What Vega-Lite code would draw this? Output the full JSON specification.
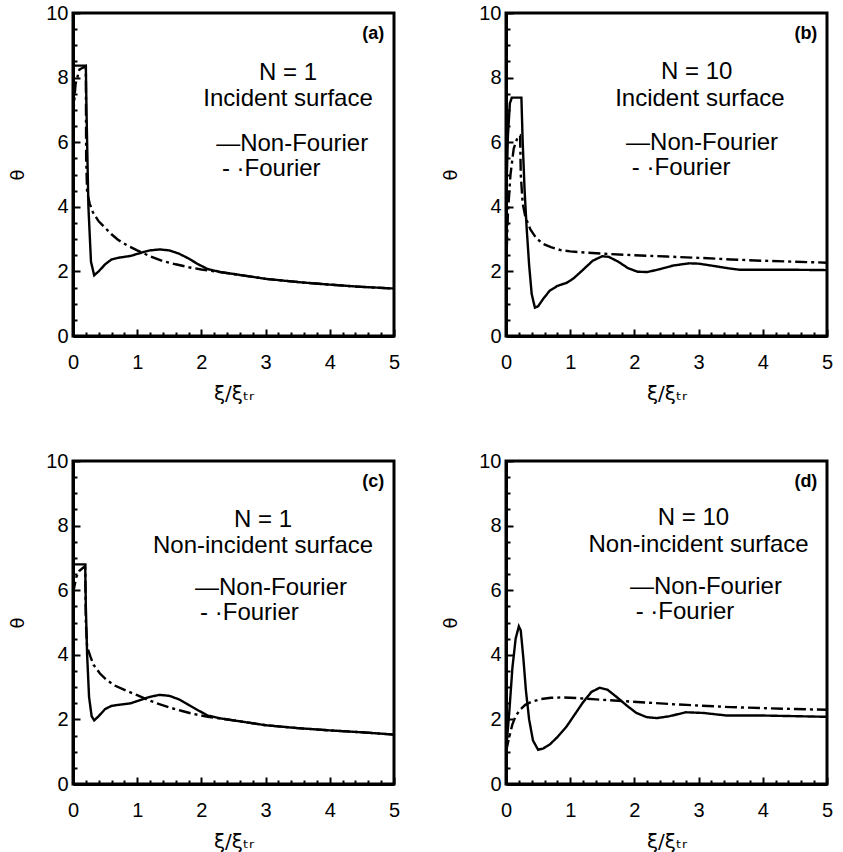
{
  "$schema": "https://vega.github.io/schema/vega-lite/v6.json",
  "background": "white",
  "padding": {"left": 8, "top": 1, "right": 5, "bottom": 5},
  "columns": 2,
  "spacing": {"row": 125, "column": 112},
  "bounds": "flush",
  "config": {
    "font": "Liberation Sans",
    "view": {"stroke": "black", "strokeWidth": 3},
    "axis": {"domainColor": "black", "domainWidth": 3, "tickColor": "black", "tickWidth": 2, "labelFont": "Liberation Sans", "labelFontSize": 20, "labelColor": "black", "titleFont": "DejaVu Sans", "titleColor": "black", "titleFontWeight": "normal", "grid": false, "labelOverlap": false, "labelFlush": false},
    "text": {"font": "Liberation Sans", "fontSize": 24, "color": "black"}
  },
  "datasets": {
    "a": [
      {"x": 0, "y": 8.37, "m": "Non-Fourier"}, {"x": 0.2, "y": 8.37, "m": "Non-Fourier"}, {"x": 0.21, "y": 7.0, "m": "Non-Fourier"}, {"x": 0.24, "y": 4.0, "m": "Non-Fourier"}, {"x": 0.28, "y": 2.3, "m": "Non-Fourier"}, {"x": 0.33, "y": 1.88, "m": "Non-Fourier"}, {"x": 0.4, "y": 2.0, "m": "Non-Fourier"}, {"x": 0.5, "y": 2.22, "m": "Non-Fourier"}, {"x": 0.6, "y": 2.37, "m": "Non-Fourier"}, {"x": 0.7, "y": 2.42, "m": "Non-Fourier"}, {"x": 0.8, "y": 2.45, "m": "Non-Fourier"}, {"x": 0.9, "y": 2.48, "m": "Non-Fourier"}, {"x": 1.0, "y": 2.54, "m": "Non-Fourier"}, {"x": 1.1, "y": 2.6, "m": "Non-Fourier"}, {"x": 1.2, "y": 2.65, "m": "Non-Fourier"}, {"x": 1.35, "y": 2.68, "m": "Non-Fourier"}, {"x": 1.5, "y": 2.65, "m": "Non-Fourier"}, {"x": 1.65, "y": 2.55, "m": "Non-Fourier"}, {"x": 1.8, "y": 2.4, "m": "Non-Fourier"}, {"x": 1.95, "y": 2.22, "m": "Non-Fourier"}, {"x": 2.1, "y": 2.07, "m": "Non-Fourier"}, {"x": 2.3, "y": 1.98, "m": "Non-Fourier"}, {"x": 2.5, "y": 1.92, "m": "Non-Fourier"}, {"x": 2.8, "y": 1.83, "m": "Non-Fourier"}, {"x": 3.0, "y": 1.77, "m": "Non-Fourier"}, {"x": 3.5, "y": 1.67, "m": "Non-Fourier"}, {"x": 4.0, "y": 1.59, "m": "Non-Fourier"}, {"x": 4.5, "y": 1.52, "m": "Non-Fourier"}, {"x": 5.0, "y": 1.47, "m": "Non-Fourier"},
      {"x": 0, "y": 6.8, "m": "Fourier"}, {"x": 0.04, "y": 7.8, "m": "Fourier"}, {"x": 0.1, "y": 8.25, "m": "Fourier"}, {"x": 0.2, "y": 8.35, "m": "Fourier"}, {"x": 0.205, "y": 5.5, "m": "Fourier"}, {"x": 0.22, "y": 4.45, "m": "Fourier"}, {"x": 0.26, "y": 4.1, "m": "Fourier"}, {"x": 0.31, "y": 3.83, "m": "Fourier"}, {"x": 0.4, "y": 3.55, "m": "Fourier"}, {"x": 0.5, "y": 3.35, "m": "Fourier"}, {"x": 0.6, "y": 3.15, "m": "Fourier"}, {"x": 0.7, "y": 2.98, "m": "Fourier"}, {"x": 0.85, "y": 2.8, "m": "Fourier"}, {"x": 1.0, "y": 2.65, "m": "Fourier"}, {"x": 1.2, "y": 2.47, "m": "Fourier"}, {"x": 1.4, "y": 2.32, "m": "Fourier"}, {"x": 1.6, "y": 2.22, "m": "Fourier"}, {"x": 1.8, "y": 2.13, "m": "Fourier"}, {"x": 2.0, "y": 2.06, "m": "Fourier"}, {"x": 2.2, "y": 2.0, "m": "Fourier"}, {"x": 2.5, "y": 1.92, "m": "Fourier"}, {"x": 3.0, "y": 1.77, "m": "Fourier"}, {"x": 3.5, "y": 1.67, "m": "Fourier"}, {"x": 4.0, "y": 1.59, "m": "Fourier"}, {"x": 4.5, "y": 1.52, "m": "Fourier"}, {"x": 5.0, "y": 1.47, "m": "Fourier"}
    ],
    "b": [
      {"x": 0, "y": 4.0, "m": "Non-Fourier"}, {"x": 0.03, "y": 6.2, "m": "Non-Fourier"}, {"x": 0.06, "y": 7.2, "m": "Non-Fourier"}, {"x": 0.09, "y": 7.38, "m": "Non-Fourier"}, {"x": 0.24, "y": 7.38, "m": "Non-Fourier"}, {"x": 0.26, "y": 6.0, "m": "Non-Fourier"}, {"x": 0.29, "y": 4.5, "m": "Non-Fourier"}, {"x": 0.32, "y": 3.4, "m": "Non-Fourier"}, {"x": 0.36, "y": 2.2, "m": "Non-Fourier"}, {"x": 0.4, "y": 1.3, "m": "Non-Fourier"}, {"x": 0.45, "y": 0.88, "m": "Non-Fourier"}, {"x": 0.5, "y": 0.92, "m": "Non-Fourier"}, {"x": 0.58, "y": 1.15, "m": "Non-Fourier"}, {"x": 0.68, "y": 1.4, "m": "Non-Fourier"}, {"x": 0.8, "y": 1.55, "m": "Non-Fourier"}, {"x": 0.95, "y": 1.65, "m": "Non-Fourier"}, {"x": 1.05, "y": 1.78, "m": "Non-Fourier"}, {"x": 1.2, "y": 2.05, "m": "Non-Fourier"}, {"x": 1.35, "y": 2.33, "m": "Non-Fourier"}, {"x": 1.5, "y": 2.47, "m": "Non-Fourier"}, {"x": 1.6, "y": 2.45, "m": "Non-Fourier"}, {"x": 1.75, "y": 2.3, "m": "Non-Fourier"}, {"x": 1.9, "y": 2.1, "m": "Non-Fourier"}, {"x": 2.05, "y": 1.99, "m": "Non-Fourier"}, {"x": 2.2, "y": 1.98, "m": "Non-Fourier"}, {"x": 2.4, "y": 2.07, "m": "Non-Fourier"}, {"x": 2.6, "y": 2.18, "m": "Non-Fourier"}, {"x": 2.85, "y": 2.25, "m": "Non-Fourier"}, {"x": 3.0, "y": 2.24, "m": "Non-Fourier"}, {"x": 3.2, "y": 2.18, "m": "Non-Fourier"}, {"x": 3.45, "y": 2.1, "m": "Non-Fourier"}, {"x": 3.65, "y": 2.05, "m": "Non-Fourier"}, {"x": 4.0, "y": 2.05, "m": "Non-Fourier"}, {"x": 4.5, "y": 2.05, "m": "Non-Fourier"}, {"x": 5.0, "y": 2.04, "m": "Non-Fourier"},
      {"x": 0, "y": 2.0, "m": "Fourier"}, {"x": 0.03, "y": 3.8, "m": "Fourier"}, {"x": 0.07, "y": 5.0, "m": "Fourier"}, {"x": 0.12, "y": 5.8, "m": "Fourier"}, {"x": 0.18, "y": 6.15, "m": "Fourier"}, {"x": 0.22, "y": 6.2, "m": "Fourier"}, {"x": 0.23, "y": 5.0, "m": "Fourier"}, {"x": 0.26, "y": 4.1, "m": "Fourier"}, {"x": 0.3, "y": 3.7, "m": "Fourier"}, {"x": 0.38, "y": 3.3, "m": "Fourier"}, {"x": 0.47, "y": 3.03, "m": "Fourier"}, {"x": 0.58, "y": 2.85, "m": "Fourier"}, {"x": 0.7, "y": 2.75, "m": "Fourier"}, {"x": 0.85, "y": 2.66, "m": "Fourier"}, {"x": 1.0, "y": 2.62, "m": "Fourier"}, {"x": 1.25, "y": 2.58, "m": "Fourier"}, {"x": 1.5, "y": 2.55, "m": "Fourier"}, {"x": 2.0, "y": 2.5, "m": "Fourier"}, {"x": 2.5, "y": 2.46, "m": "Fourier"}, {"x": 3.0, "y": 2.42, "m": "Fourier"}, {"x": 3.5, "y": 2.37, "m": "Fourier"}, {"x": 4.0, "y": 2.33, "m": "Fourier"}, {"x": 4.5, "y": 2.3, "m": "Fourier"}, {"x": 5.0, "y": 2.27, "m": "Fourier"}
    ],
    "c": [
      {"x": 0, "y": 6.8, "m": "Non-Fourier"}, {"x": 0.19, "y": 6.8, "m": "Non-Fourier"}, {"x": 0.2, "y": 5.5, "m": "Non-Fourier"}, {"x": 0.22, "y": 4.0, "m": "Non-Fourier"}, {"x": 0.25, "y": 2.7, "m": "Non-Fourier"}, {"x": 0.29, "y": 2.1, "m": "Non-Fourier"}, {"x": 0.33, "y": 1.97, "m": "Non-Fourier"}, {"x": 0.4, "y": 2.1, "m": "Non-Fourier"}, {"x": 0.5, "y": 2.32, "m": "Non-Fourier"}, {"x": 0.6, "y": 2.42, "m": "Non-Fourier"}, {"x": 0.75, "y": 2.46, "m": "Non-Fourier"}, {"x": 0.9, "y": 2.5, "m": "Non-Fourier"}, {"x": 1.05, "y": 2.6, "m": "Non-Fourier"}, {"x": 1.2, "y": 2.7, "m": "Non-Fourier"}, {"x": 1.35, "y": 2.76, "m": "Non-Fourier"}, {"x": 1.5, "y": 2.73, "m": "Non-Fourier"}, {"x": 1.65, "y": 2.62, "m": "Non-Fourier"}, {"x": 1.8, "y": 2.45, "m": "Non-Fourier"}, {"x": 1.95, "y": 2.28, "m": "Non-Fourier"}, {"x": 2.1, "y": 2.12, "m": "Non-Fourier"}, {"x": 2.3, "y": 2.03, "m": "Non-Fourier"}, {"x": 2.5, "y": 1.97, "m": "Non-Fourier"}, {"x": 2.8, "y": 1.88, "m": "Non-Fourier"}, {"x": 3.0, "y": 1.82, "m": "Non-Fourier"}, {"x": 3.5, "y": 1.73, "m": "Non-Fourier"}, {"x": 4.0, "y": 1.66, "m": "Non-Fourier"}, {"x": 4.5, "y": 1.6, "m": "Non-Fourier"}, {"x": 5.0, "y": 1.53, "m": "Non-Fourier"},
      {"x": 0, "y": 5.9, "m": "Fourier"}, {"x": 0.05, "y": 6.4, "m": "Fourier"}, {"x": 0.1, "y": 6.6, "m": "Fourier"}, {"x": 0.19, "y": 6.75, "m": "Fourier"}, {"x": 0.2, "y": 5.0, "m": "Fourier"}, {"x": 0.22, "y": 4.25, "m": "Fourier"}, {"x": 0.27, "y": 3.95, "m": "Fourier"}, {"x": 0.32, "y": 3.69, "m": "Fourier"}, {"x": 0.42, "y": 3.42, "m": "Fourier"}, {"x": 0.52, "y": 3.23, "m": "Fourier"}, {"x": 0.65, "y": 3.05, "m": "Fourier"}, {"x": 0.84, "y": 2.88, "m": "Fourier"}, {"x": 1.0, "y": 2.75, "m": "Fourier"}, {"x": 1.15, "y": 2.62, "m": "Fourier"}, {"x": 1.3, "y": 2.5, "m": "Fourier"}, {"x": 1.5, "y": 2.37, "m": "Fourier"}, {"x": 1.7, "y": 2.26, "m": "Fourier"}, {"x": 1.87, "y": 2.17, "m": "Fourier"}, {"x": 2.1, "y": 2.08, "m": "Fourier"}, {"x": 2.3, "y": 2.03, "m": "Fourier"}, {"x": 2.5, "y": 1.97, "m": "Fourier"}, {"x": 2.8, "y": 1.88, "m": "Fourier"}, {"x": 3.0, "y": 1.82, "m": "Fourier"}, {"x": 3.5, "y": 1.73, "m": "Fourier"}, {"x": 4.0, "y": 1.66, "m": "Fourier"}, {"x": 4.5, "y": 1.6, "m": "Fourier"}, {"x": 5.0, "y": 1.53, "m": "Fourier"}
    ],
    "d": [
      {"x": 0, "y": 1.0, "m": "Non-Fourier"}, {"x": 0.05, "y": 2.2, "m": "Non-Fourier"}, {"x": 0.1, "y": 3.6, "m": "Non-Fourier"}, {"x": 0.15, "y": 4.5, "m": "Non-Fourier"}, {"x": 0.2, "y": 4.88, "m": "Non-Fourier"}, {"x": 0.23, "y": 4.75, "m": "Non-Fourier"}, {"x": 0.27, "y": 3.9, "m": "Non-Fourier"}, {"x": 0.31, "y": 2.9, "m": "Non-Fourier"}, {"x": 0.36, "y": 2.0, "m": "Non-Fourier"}, {"x": 0.42, "y": 1.35, "m": "Non-Fourier"}, {"x": 0.5, "y": 1.06, "m": "Non-Fourier"}, {"x": 0.58, "y": 1.1, "m": "Non-Fourier"}, {"x": 0.68, "y": 1.22, "m": "Non-Fourier"}, {"x": 0.8, "y": 1.45, "m": "Non-Fourier"}, {"x": 0.94, "y": 1.77, "m": "Non-Fourier"}, {"x": 1.07, "y": 2.15, "m": "Non-Fourier"}, {"x": 1.2, "y": 2.53, "m": "Non-Fourier"}, {"x": 1.33, "y": 2.85, "m": "Non-Fourier"}, {"x": 1.46, "y": 2.98, "m": "Non-Fourier"}, {"x": 1.58, "y": 2.92, "m": "Non-Fourier"}, {"x": 1.72, "y": 2.7, "m": "Non-Fourier"}, {"x": 1.88, "y": 2.43, "m": "Non-Fourier"}, {"x": 2.03, "y": 2.2, "m": "Non-Fourier"}, {"x": 2.19, "y": 2.07, "m": "Non-Fourier"}, {"x": 2.35, "y": 2.04, "m": "Non-Fourier"}, {"x": 2.55, "y": 2.1, "m": "Non-Fourier"}, {"x": 2.8, "y": 2.22, "m": "Non-Fourier"}, {"x": 3.07, "y": 2.2, "m": "Non-Fourier"}, {"x": 3.44, "y": 2.12, "m": "Non-Fourier"}, {"x": 4.0, "y": 2.12, "m": "Non-Fourier"}, {"x": 4.5, "y": 2.1, "m": "Non-Fourier"}, {"x": 5.0, "y": 2.08, "m": "Non-Fourier"},
      {"x": 0, "y": 1.0, "m": "Fourier"}, {"x": 0.05, "y": 1.45, "m": "Fourier"}, {"x": 0.1, "y": 1.85, "m": "Fourier"}, {"x": 0.15, "y": 2.1, "m": "Fourier"}, {"x": 0.22, "y": 2.3, "m": "Fourier"}, {"x": 0.3, "y": 2.45, "m": "Fourier"}, {"x": 0.4, "y": 2.55, "m": "Fourier"}, {"x": 0.55, "y": 2.63, "m": "Fourier"}, {"x": 0.7, "y": 2.67, "m": "Fourier"}, {"x": 0.9, "y": 2.68, "m": "Fourier"}, {"x": 1.1, "y": 2.66, "m": "Fourier"}, {"x": 1.4, "y": 2.62, "m": "Fourier"}, {"x": 1.8, "y": 2.57, "m": "Fourier"}, {"x": 2.2, "y": 2.52, "m": "Fourier"}, {"x": 2.6, "y": 2.47, "m": "Fourier"}, {"x": 3.0, "y": 2.43, "m": "Fourier"}, {"x": 3.5, "y": 2.38, "m": "Fourier"}, {"x": 4.0, "y": 2.35, "m": "Fourier"}, {"x": 4.5, "y": 2.32, "m": "Fourier"}, {"x": 5.0, "y": 2.3, "m": "Fourier"}
    ]
  },
  "concat": [
    {
      "width": 321, "height": 323,
      "layer": [
        {"data": {"name": "a"}, "mark": {"type": "line", "strokeWidth": 2.4, "color": "black", "clip": true},
         "encoding": {
           "x": {"field": "x", "type": "quantitative", "scale": {"domain": [0, 5], "nice": false}, "axis": {"title": "ξ/ξₜᵣ", "titleFontSize": 20, "titlePadding": 8, "labelPadding": 23, "labelOverlap": false, "tickCount": 30, "values": [0, 0.2, 0.4, 0.6, 0.8, 1, 1.2, 1.4, 1.6, 1.8, 2, 2.2, 2.4, 2.6, 2.8, 3, 3.2, 3.4, 3.6, 3.8, 4, 4.2, 4.4, 4.6, 4.8, 5], "labelExpr": "datum.value % 1 === 0 ? '' + datum.value : ''", "tickSize": {"condition": {"test": "datum.value % 1 === 0", "value": -7}, "value": -4}}},
           "y": {"field": "y", "type": "quantitative", "scale": {"domain": [0, 10], "nice": false}, "axis": {"title": "θ", "titleFontSize": 18, "titlePadding": 18, "labelPadding": 12, "labelOverlap": false, "tickCount": 25, "values": [0, 0.5, 1, 1.5, 2, 2.5, 3, 3.5, 4, 4.5, 5, 5.5, 6, 6.5, 7, 7.5, 8, 8.5, 9, 9.5, 10], "labelExpr": "datum.value % 2 === 0 ? '' + datum.value : ''", "tickSize": {"condition": {"test": "datum.value % 2 === 0", "value": -7}, "value": -4}}},
           "strokeDash": {"field": "m", "type": "nominal", "scale": {"domain": ["Non-Fourier", "Fourier"], "range": [[1, 0], [12, 4, 3, 4]]}, "legend": null}
         }},
        {"data": {"values": [{}]}, "mark": {"type": "text", "align": "center", "baseline": "middle"}, "encoding": {"x": {"datum": 3.35, "type": "quantitative"}, "y": {"datum": 8.14, "type": "quantitative"}, "text": {"value": "N = 1"}}},
        {"data": {"values": [{}]}, "mark": {"type": "text", "align": "center", "baseline": "middle"}, "encoding": {"x": {"datum": 3.35, "type": "quantitative"}, "y": {"datum": 7.33, "type": "quantitative"}, "text": {"value": "Incident surface"}}},
        {"data": {"values": [{}]}, "mark": {"type": "text", "align": "left", "baseline": "middle"}, "encoding": {"x": {"datum": 2.23, "type": "quantitative"}, "y": {"datum": 5.94, "type": "quantitative"}, "text": {"value": "—Non-Fourier"}}},
        {"data": {"values": [{}]}, "mark": {"type": "text", "align": "left", "baseline": "middle"}, "encoding": {"x": {"datum": 2.32, "type": "quantitative"}, "y": {"datum": 5.17, "type": "quantitative"}, "text": {"value": "- ·Fourier"}}},
        {"data": {"values": [{}]}, "mark": {"type": "text", "align": "right", "baseline": "middle", "fontWeight": "bold", "fontSize": 18}, "encoding": {"x": {"datum": 4.85, "type": "quantitative"}, "y": {"datum": 9.35, "type": "quantitative"}, "text": {"value": "(a)"}}}
      ]
    },
    {
      "width": 321, "height": 323,
      "layer": [
        {"data": {"name": "b"}, "mark": {"type": "line", "strokeWidth": 2.4, "color": "black", "clip": true},
         "encoding": {
           "x": {"field": "x", "type": "quantitative", "scale": {"domain": [0, 5], "nice": false}, "axis": {"title": "ξ/ξₜᵣ", "titleFontSize": 20, "titlePadding": 8, "labelPadding": 23, "labelOverlap": false, "tickCount": 30, "values": [0, 0.2, 0.4, 0.6, 0.8, 1, 1.2, 1.4, 1.6, 1.8, 2, 2.2, 2.4, 2.6, 2.8, 3, 3.2, 3.4, 3.6, 3.8, 4, 4.2, 4.4, 4.6, 4.8, 5], "labelExpr": "datum.value % 1 === 0 ? '' + datum.value : ''", "tickSize": {"condition": {"test": "datum.value % 1 === 0", "value": -7}, "value": -4}}},
           "y": {"field": "y", "type": "quantitative", "scale": {"domain": [0, 10], "nice": false}, "axis": {"title": "θ", "titleFontSize": 18, "titlePadding": 18, "labelPadding": 12, "labelOverlap": false, "tickCount": 25, "values": [0, 0.5, 1, 1.5, 2, 2.5, 3, 3.5, 4, 4.5, 5, 5.5, 6, 6.5, 7, 7.5, 8, 8.5, 9, 9.5, 10], "labelExpr": "datum.value % 2 === 0 ? '' + datum.value : ''", "tickSize": {"condition": {"test": "datum.value % 2 === 0", "value": -7}, "value": -4}}},
           "strokeDash": {"field": "m", "type": "nominal", "scale": {"domain": ["Non-Fourier", "Fourier"], "range": [[1, 0], [12, 4, 3, 4]]}, "legend": null}
         }},
        {"data": {"values": [{}]}, "mark": {"type": "text", "align": "center", "baseline": "middle"}, "encoding": {"x": {"datum": 2.97, "type": "quantitative"}, "y": {"datum": 8.16, "type": "quantitative"}, "text": {"value": "N = 10"}}},
        {"data": {"values": [{}]}, "mark": {"type": "text", "align": "center", "baseline": "middle"}, "encoding": {"x": {"datum": 3.02, "type": "quantitative"}, "y": {"datum": 7.33, "type": "quantitative"}, "text": {"value": "Incident surface"}}},
        {"data": {"values": [{}]}, "mark": {"type": "text", "align": "left", "baseline": "middle"}, "encoding": {"x": {"datum": 1.87, "type": "quantitative"}, "y": {"datum": 5.97, "type": "quantitative"}, "text": {"value": "—Non-Fourier"}}},
        {"data": {"values": [{}]}, "mark": {"type": "text", "align": "left", "baseline": "middle"}, "encoding": {"x": {"datum": 1.96, "type": "quantitative"}, "y": {"datum": 5.2, "type": "quantitative"}, "text": {"value": "- ·Fourier"}}},
        {"data": {"values": [{}]}, "mark": {"type": "text", "align": "right", "baseline": "middle", "fontWeight": "bold", "fontSize": 18}, "encoding": {"x": {"datum": 4.85, "type": "quantitative"}, "y": {"datum": 9.35, "type": "quantitative"}, "text": {"value": "(b)"}}}
      ]
    },
    {
      "width": 321, "height": 323,
      "layer": [
        {"data": {"name": "c"}, "mark": {"type": "line", "strokeWidth": 2.4, "color": "black", "clip": true},
         "encoding": {
           "x": {"field": "x", "type": "quantitative", "scale": {"domain": [0, 5], "nice": false}, "axis": {"title": "ξ/ξₜᵣ", "titleFontSize": 20, "titlePadding": 8, "labelPadding": 23, "labelOverlap": false, "tickCount": 30, "values": [0, 0.2, 0.4, 0.6, 0.8, 1, 1.2, 1.4, 1.6, 1.8, 2, 2.2, 2.4, 2.6, 2.8, 3, 3.2, 3.4, 3.6, 3.8, 4, 4.2, 4.4, 4.6, 4.8, 5], "labelExpr": "datum.value % 1 === 0 ? '' + datum.value : ''", "tickSize": {"condition": {"test": "datum.value % 1 === 0", "value": -7}, "value": -4}}},
           "y": {"field": "y", "type": "quantitative", "scale": {"domain": [0, 10], "nice": false}, "axis": {"title": "θ", "titleFontSize": 18, "titlePadding": 18, "labelPadding": 12, "labelOverlap": false, "tickCount": 25, "values": [0, 0.5, 1, 1.5, 2, 2.5, 3, 3.5, 4, 4.5, 5, 5.5, 6, 6.5, 7, 7.5, 8, 8.5, 9, 9.5, 10], "labelExpr": "datum.value % 2 === 0 ? '' + datum.value : ''", "tickSize": {"condition": {"test": "datum.value % 2 === 0", "value": -7}, "value": -4}}},
           "strokeDash": {"field": "m", "type": "nominal", "scale": {"domain": ["Non-Fourier", "Fourier"], "range": [[1, 0], [12, 4, 3, 4]]}, "legend": null}
         }},
        {"data": {"values": [{}]}, "mark": {"type": "text", "align": "center", "baseline": "middle"}, "encoding": {"x": {"datum": 2.96, "type": "quantitative"}, "y": {"datum": 8.18, "type": "quantitative"}, "text": {"value": "N = 1"}}},
        {"data": {"values": [{}]}, "mark": {"type": "text", "align": "center", "baseline": "middle"}, "encoding": {"x": {"datum": 2.96, "type": "quantitative"}, "y": {"datum": 7.36, "type": "quantitative"}, "text": {"value": "Non-incident surface"}}},
        {"data": {"values": [{}]}, "mark": {"type": "text", "align": "left", "baseline": "middle"}, "encoding": {"x": {"datum": 1.9, "type": "quantitative"}, "y": {"datum": 6.06, "type": "quantitative"}, "text": {"value": "—Non-Fourier"}}},
        {"data": {"values": [{}]}, "mark": {"type": "text", "align": "left", "baseline": "middle"}, "encoding": {"x": {"datum": 1.98, "type": "quantitative"}, "y": {"datum": 5.3, "type": "quantitative"}, "text": {"value": "- ·Fourier"}}},
        {"data": {"values": [{}]}, "mark": {"type": "text", "align": "right", "baseline": "middle", "fontWeight": "bold", "fontSize": 18}, "encoding": {"x": {"datum": 4.85, "type": "quantitative"}, "y": {"datum": 9.35, "type": "quantitative"}, "text": {"value": "(c)"}}}
      ]
    },
    {
      "width": 321, "height": 323,
      "layer": [
        {"data": {"name": "d"}, "mark": {"type": "line", "strokeWidth": 2.4, "color": "black", "clip": true},
         "encoding": {
           "x": {"field": "x", "type": "quantitative", "scale": {"domain": [0, 5], "nice": false}, "axis": {"title": "ξ/ξₜᵣ", "titleFontSize": 20, "titlePadding": 8, "labelPadding": 23, "labelOverlap": false, "tickCount": 30, "values": [0, 0.2, 0.4, 0.6, 0.8, 1, 1.2, 1.4, 1.6, 1.8, 2, 2.2, 2.4, 2.6, 2.8, 3, 3.2, 3.4, 3.6, 3.8, 4, 4.2, 4.4, 4.6, 4.8, 5], "labelExpr": "datum.value % 1 === 0 ? '' + datum.value : ''", "tickSize": {"condition": {"test": "datum.value % 1 === 0", "value": -7}, "value": -4}}},
           "y": {"field": "y", "type": "quantitative", "scale": {"domain": [0, 10], "nice": false}, "axis": {"title": "θ", "titleFontSize": 18, "titlePadding": 18, "labelPadding": 12, "labelOverlap": false, "tickCount": 25, "values": [0, 0.5, 1, 1.5, 2, 2.5, 3, 3.5, 4, 4.5, 5, 5.5, 6, 6.5, 7, 7.5, 8, 8.5, 9, 9.5, 10], "labelExpr": "datum.value % 2 === 0 ? '' + datum.value : ''", "tickSize": {"condition": {"test": "datum.value % 2 === 0", "value": -7}, "value": -4}}},
           "strokeDash": {"field": "m", "type": "nominal", "scale": {"domain": ["Non-Fourier", "Fourier"], "range": [[1, 0], [12, 4, 3, 4]]}, "legend": null}
         }},
        {"data": {"values": [{}]}, "mark": {"type": "text", "align": "center", "baseline": "middle"}, "encoding": {"x": {"datum": 2.92, "type": "quantitative"}, "y": {"datum": 8.22, "type": "quantitative"}, "text": {"value": "N = 10"}}},
        {"data": {"values": [{}]}, "mark": {"type": "text", "align": "center", "baseline": "middle"}, "encoding": {"x": {"datum": 3.0, "type": "quantitative"}, "y": {"datum": 7.4, "type": "quantitative"}, "text": {"value": "Non-incident surface"}}},
        {"data": {"values": [{}]}, "mark": {"type": "text", "align": "left", "baseline": "middle"}, "encoding": {"x": {"datum": 1.93, "type": "quantitative"}, "y": {"datum": 6.09, "type": "quantitative"}, "text": {"value": "—Non-Fourier"}}},
        {"data": {"values": [{}]}, "mark": {"type": "text", "align": "left", "baseline": "middle"}, "encoding": {"x": {"datum": 2.02, "type": "quantitative"}, "y": {"datum": 5.33, "type": "quantitative"}, "text": {"value": "- ·Fourier"}}},
        {"data": {"values": [{}]}, "mark": {"type": "text", "align": "right", "baseline": "middle", "fontWeight": "bold", "fontSize": 18}, "encoding": {"x": {"datum": 4.85, "type": "quantitative"}, "y": {"datum": 9.35, "type": "quantitative"}, "text": {"value": "(d)"}}}
      ]
    }
  ]
}
